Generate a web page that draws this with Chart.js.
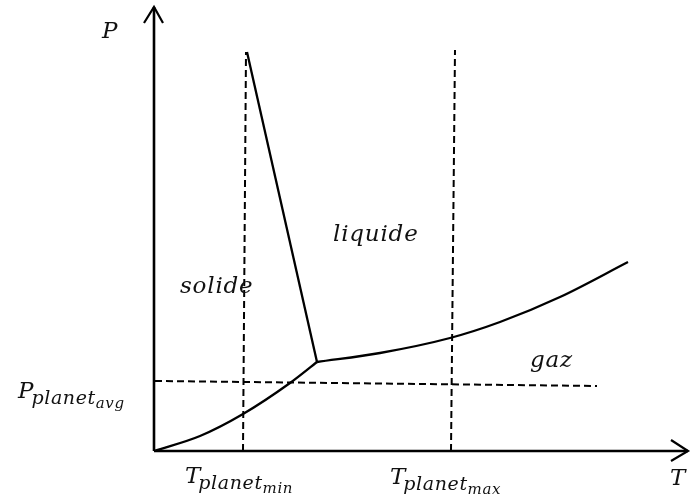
<!DOCTYPE html>
<html>
<head>
<meta charset="utf-8">
<script src="https://cdn.jsdelivr.net/npm/chart.js@4"></script>
<style>
  html, body { margin: 0; padding: 0; background: #fff; }
  #wrap { width: 691px; height: 500px; }
</style>
</head>
<body>
<div id="wrap"><canvas id="phaseChart" width="691" height="500"></canvas></div>
<script>
// values, axis origin = (0, 0), arbitrary units
const sublimation = [[0, 0], [46, 15], [89, 37], [136, 68], [163, 89]];
const melting = [[163, 89], [93, 399]];
const vaporization = [[163, 89], [226, 98], [296, 113], [346, 129], [406, 154], [474, 189]];
const tMinLine = [[89, 0], [92, 399]];
const tMaxLine = [[297, 0], [301, 401]];
const pAvgLine = [[1, 70], [443, 65]];
const tAxis = [[0, 0], [534, 0]];
const pAxis = [[0, 0], [0, 444]];
const tArrow = [[517, 11], [534, 0], [517, -10]];
const pArrow = [[-10, 428], [0, 444], [9, 428]];

// text labels: [text, sub, subsub, x, y]
const labels = [
  ["P", "", "", -52, 413],
  ["solide", "", "", 26, 158],
  ["liquide", "", "", 179, 210],
  ["gaz", "", "", 376, 84],
  ["T", "", "", 516, -34],
  ["P", "planet", "avg", -136, 53],
  ["T", "planet", "min", 31, -32],
  ["T", "planet", "max", 236, -33]
];

const pts = arr => arr.map(([x, y]) => ({ x, y }));

function line(data, opts) {
  return Object.assign({
    data: pts(data),
    borderColor: "#000",
    borderWidth: 2.3,
    pointRadius: 0,
    fill: false,
    tension: 0
  }, opts);
}

const dash = { borderWidth: 2, borderDash: [7, 4] };

const datasets = [
  line(tAxis, { borderWidth: 2.6 }),
  line(pAxis, { borderWidth: 2.6 }),
  line(tArrow, { borderWidth: 2.2 }),
  line(pArrow, { borderWidth: 2.2 }),
  line(tMinLine, dash),
  line(tMaxLine, dash),
  line(pAvgLine, dash),
  line(sublimation, { cubicInterpolationMode: "monotone" }),
  line(melting),
  line(vaporization, { cubicInterpolationMode: "monotone" })
];

const textPlugin = {
  id: "phaseText",
  afterDraw(chart) {
    const ctx = chart.ctx;
    const xs = chart.scales.x, ys = chart.scales.y;
    const fam = '"DejaVu Serif", serif';
    ctx.save();
    ctx.fillStyle = "#111";
    ctx.textBaseline = "alphabetic";
    labels.forEach(([main, sub, subsub, x, y]) => {
      let px = xs.getPixelForValue(x);
      const py = ys.getPixelForValue(y);
      ctx.font = "italic 23px " + fam;
      ctx.letterSpacing = sub ? "0px" : "0.8px";
      ctx.fillText(main, px, py);
      px += ctx.measureText(main).width - 2;
      if (sub) {
        ctx.font = "italic 19px " + fam;
        ctx.letterSpacing = "0.6px";
        ctx.fillText(sub, px, py + 6);
        px += ctx.measureText(sub).width;
      }
      if (subsub) {
        ctx.font = "italic 15px " + fam;
        ctx.letterSpacing = "0.6px";
        ctx.fillText(subsub, px, py + 10);
      }
    });
    ctx.restore();
  }
};

new Chart(document.getElementById("phaseChart").getContext("2d"), {
  type: "line",
  data: { datasets },
  options: {
    responsive: false,
    animation: false,
    layout: { padding: 0 },
    plugins: { legend: { display: false }, tooltip: { enabled: false } },
    scales: {
      x: { type: "linear", min: -154, max: 537, display: false },
      y: { type: "linear", min: -49, max: 451, display: false }
    }
  },
  plugins: [textPlugin]
});
</script>
</body>
</html>
